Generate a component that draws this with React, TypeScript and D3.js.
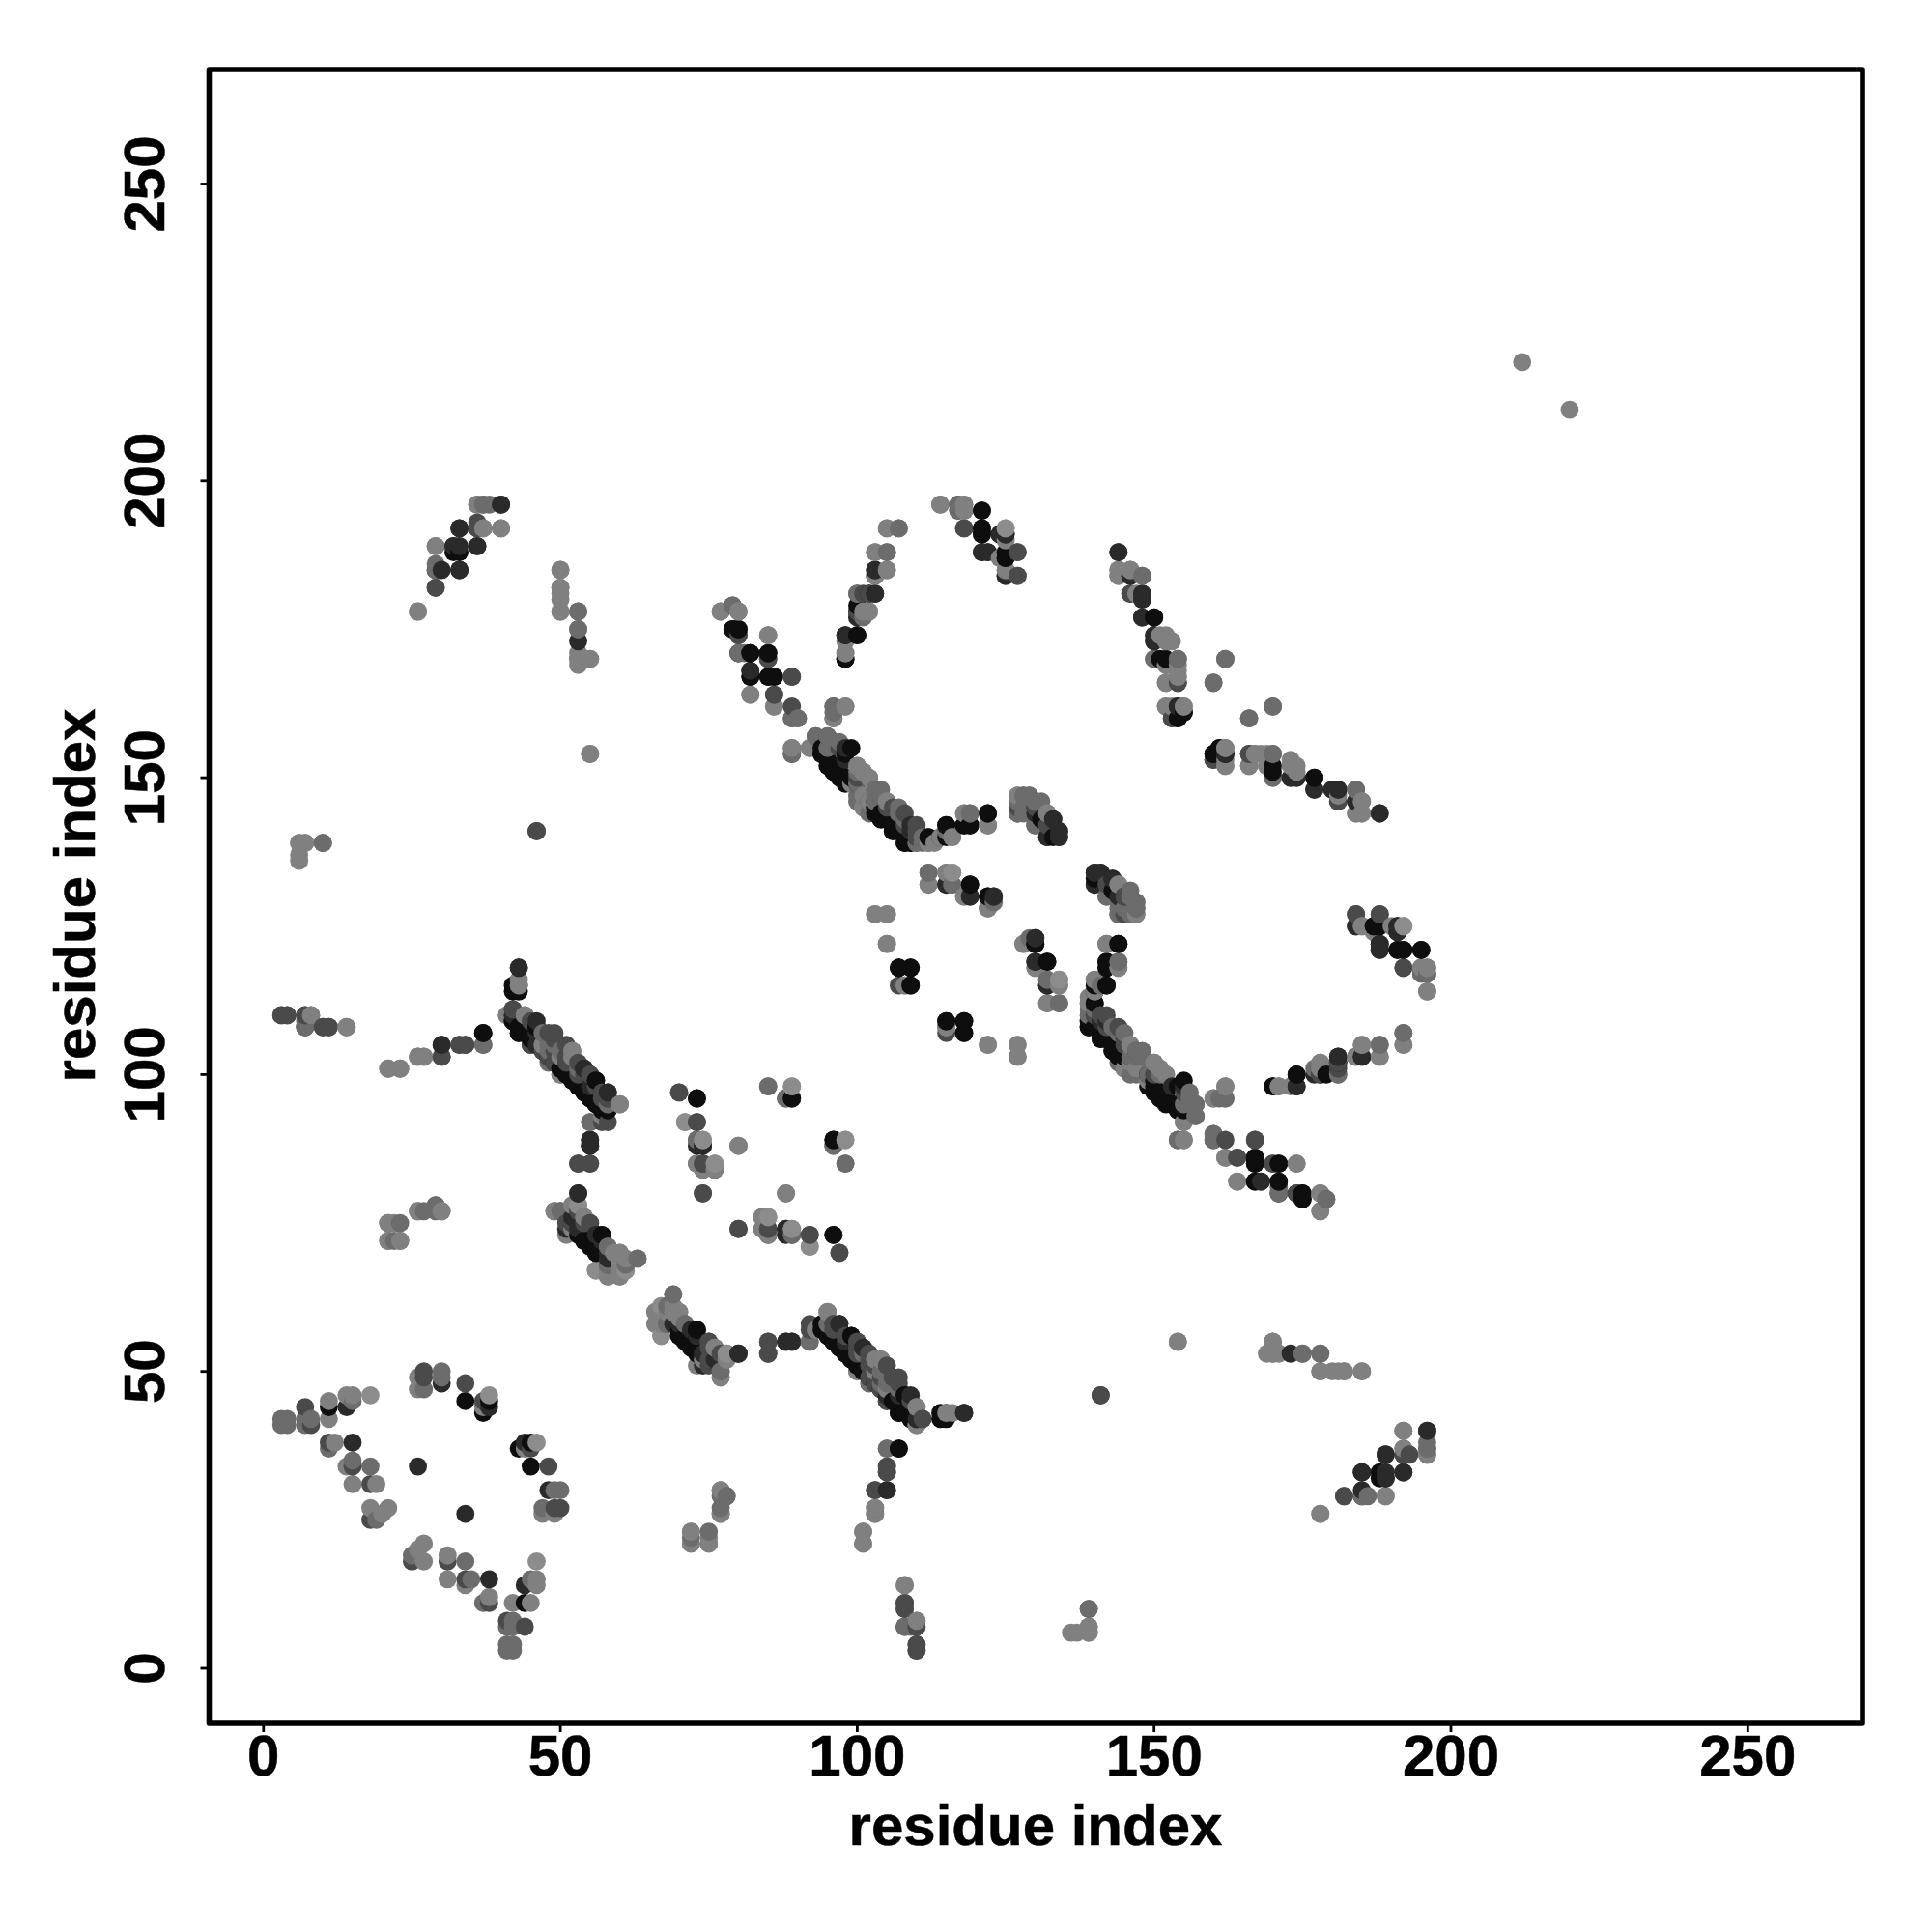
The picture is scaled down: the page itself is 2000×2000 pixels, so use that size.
import React from "react";
import * as d3 from "d3";

const xTicks = [0, 50, 100, 150, 200, 250];
const yTicks = [0, 50, 100, 150, 200, 250];
const axisTitle = "residue index";

// contacts (i < j); the map is mirrored over the diagonal. One list per grey level.
const shadeA = "#0e0e0e";
const shadeB = "#2a2a2a";
const shadeC = "#4a4a4a";
const shadeD = "#6c6c6c";
const shadeE = "#808080";
const shadeF = "#8c8c8c";

const contactsA: number[][] = [[11,44],[34,45],[37,43],[38,45],[37,107],[42,114],[43,114],[42,109],[43,108],[43,107],[44,107],[45,106],[46,105],[46,108],[47,104],[48,103],[49,102],[50,101],[51,100],[52,99],[53,98],[54,97],[55,96],[56,95],[57,94],[56,99],[58,94],[73,96],[52,74],[53,73],[54,72],[55,72],[55,71],[56,70],[56,73],[57,73],[89,96],[96,89],[88,74],[96,73],[70,57],[70,56],[72,54],[73,57],[71,56],[72,55],[95,56],[96,55],[97,54],[98,53],[99,52],[99,56],[100,51],[101,50],[106,45],[107,44],[107,43],[108,43],[108,46],[109,42],[110,42],[115,42],[107,37],[80,175],[79,175],[80,171],[82,171],[82,167],[85,171],[85,167],[86,167],[98,170],[98,174],[100,174],[100,178],[100,179],[102,181],[103,181],[103,185],[121,195],[121,192],[121,191],[125,191],[125,187],[94,155],[94,154],[95,153],[96,152],[96,151],[97,151],[98,150],[99,150],[99,155],[100,149],[103,146],[103,145],[104,144],[104,143],[105,143],[106,142],[106,141],[107,141],[108,140],[108,139],[109,139],[112,140],[115,142],[118,142],[119,142],[122,144],[132,140],[133,140],[119,132],[122,130],[107,118],[109,118],[109,115],[115,109],[118,109],[118,107],[130,122],[132,119],[143,131],[144,122],[142,119],[142,118],[142,115],[140,115],[140,112],[139,109],[139,108],[140,108],[141,107],[141,106],[142,106],[143,105],[143,104],[144,104],[144,103],[145,103],[149,98],[150,97],[151,96],[152,96],[152,95],[153,95],[154,94],[154,98],[167,85],[167,86],[171,85],[167,82],[168,82],[171,82],[175,80],[175,79],[174,100],[170,98],[187,125],[188,125],[191,124],[191,121],[192,121],[195,121],[150,177],[152,170],[154,160],[154,162],[155,161],[160,154],[161,155],[170,151],[177,150],[185,33],[188,33],[188,32],[189,32],[185,29]];

const contactsB: number[][] = [[15,38],[26,34],[30,48],[38,44],[14,44],[7,108],[30,105],[45,105],[42,110],[43,118],[54,101],[58,97],[55,89],[55,88],[55,98],[53,80],[52,76],[51,74],[57,72],[58,70],[58,69],[73,88],[74,88],[74,53],[75,52],[73,56],[80,53],[88,55],[89,55],[95,58],[97,58],[100,55],[101,54],[105,46],[107,46],[109,46],[111,42],[115,43],[118,43],[105,30],[141,46],[192,33],[196,40],[189,36],[30,185],[32,189],[33,189],[33,185],[33,192],[36,189],[36,192],[40,196],[53,173],[80,174],[82,168],[121,188],[122,188],[124,191],[125,184],[98,155],[109,142],[109,141],[114,140],[130,144],[133,143],[134,141],[134,140],[115,132],[119,130],[123,130],[130,123],[130,119],[132,115],[140,134],[141,134],[140,132],[143,133],[145,130],[140,110],[153,98],[174,98],[177,100],[181,103],[185,103],[184,125],[188,122],[188,121],[191,125],[144,188],[146,184],[148,181],[148,180],[148,177],[150,174],[150,173],[162,154],[173,150],[174,150],[177,148],[180,148],[181,148],[184,146],[188,144]];

const contactsC: number[][] = [[7,44],[8,41],[11,38],[15,34],[18,31],[18,25],[27,50],[27,49],[34,48],[37,45],[3,110],[4,110],[7,110],[10,108],[11,108],[33,105],[34,105],[30,103],[42,111],[48,107],[49,106],[49,104],[51,102],[52,102],[53,100],[54,100],[55,100],[57,96],[57,97],[56,98],[58,96],[58,92],[53,85],[55,85],[70,97],[73,92],[74,85],[74,80],[80,74],[51,75],[52,75],[54,75],[55,75],[58,68],[85,74],[85,73],[96,88],[89,73],[92,73],[97,70],[75,55],[77,53],[85,55],[85,53],[92,57],[96,58],[102,53],[103,51],[105,51],[106,49],[107,49],[102,49],[103,48],[104,47],[109,45],[105,45],[105,34],[105,33],[103,30],[108,11],[108,10],[110,8],[110,7],[110,4],[110,3],[182,29],[192,36],[193,36],[46,141],[10,139],[29,182],[86,164],[89,167],[89,154],[85,170],[101,181],[103,184],[118,192],[127,188],[127,184],[117,196],[104,147],[105,145],[106,145],[107,144],[108,144],[108,143],[110,141],[110,140],[130,142],[130,145],[115,107],[142,132],[144,127],[145,127],[140,111],[141,110],[142,110],[142,108],[146,102],[147,101],[150,100],[155,97],[162,89],[160,89],[164,86],[167,89],[170,85],[174,80],[179,79],[184,127],[188,127],[181,102],[178,100],[192,118],[195,118],[195,117],[146,181],[154,166],[160,153],[153,160],[166,154],[181,146]];

const contactsD: number[][] = [[3,41],[4,41],[3,42],[4,42],[8,42],[7,41],[7,42],[11,37],[15,35],[18,34],[19,25],[30,50],[30,49],[27,47],[15,45],[7,109],[37,105],[47,107],[48,105],[50,104],[52,104],[52,103],[53,101],[58,95],[55,92],[21,75],[23,72],[21,72],[22,72],[29,78],[29,77],[49,77],[50,77],[58,71],[61,68],[63,69],[73,89],[76,84],[85,98],[88,96],[98,85],[69,63],[68,58],[71,58],[76,54],[77,50],[92,55],[102,48],[104,48],[105,49],[105,37],[77,27],[78,29],[103,26],[103,27],[75,23],[108,7],[139,10],[175,53],[178,53],[186,29],[196,37],[79,179],[81,171],[89,160],[90,160],[89,155],[93,157],[95,157],[96,156],[97,156],[96,162],[96,160],[96,161],[107,192],[105,188],[100,181],[117,195],[127,146],[128,147],[129,147],[130,146],[127,144],[128,144],[131,146],[128,145],[103,148],[103,147],[102,150],[100,151],[102,144],[110,139],[111,140],[112,139],[122,142],[119,144],[37,192],[37,196],[36,196],[38,196],[40,192],[29,185],[53,178],[53,175],[112,134],[112,132],[116,132],[123,129],[132,116],[134,112],[142,130],[146,130],[147,129],[147,128],[144,119],[141,115],[139,110],[139,111],[143,108],[144,107],[145,107],[147,104],[148,103],[148,104],[146,103],[147,100],[146,100],[149,100],[155,95],[156,96],[157,95],[157,93],[154,89],[160,90],[162,96],[164,82],[171,80],[181,100],[177,101],[188,105],[192,107],[196,117],[148,184],[150,170],[154,170],[162,170],[160,166],[170,162],[166,160],[166,152],[170,154],[170,150],[184,148]];

const contactsE: number[][] = [[11,45],[11,42],[12,38],[14,34],[15,31],[19,31],[18,27],[20,26],[21,27],[14,46],[15,46],[26,49],[26,47],[37,44],[8,110],[14,108],[21,101],[23,101],[26,103],[27,103],[43,115],[41,110],[44,110],[47,105],[50,103],[50,100],[60,95],[22,75],[26,77],[30,77],[52,78],[53,78],[54,76],[51,73],[59,70],[60,70],[60,69],[60,68],[61,69],[61,67],[60,67],[58,67],[58,66],[56,67],[60,66],[73,85],[74,84],[84,76],[85,76],[84,74],[80,88],[88,80],[66,60],[66,58],[67,60],[67,58],[69,60],[70,60],[74,52],[78,52],[77,49],[93,57],[95,60],[103,52],[104,52],[100,50],[110,44],[110,41],[116,43],[77,30],[77,26],[72,23],[72,21],[75,21],[101,23],[101,21],[108,14],[136,6],[139,6],[139,7],[154,55],[170,55],[170,53],[171,53],[178,50],[181,50],[182,50],[185,50],[178,26],[189,29],[192,40],[196,36],[192,37],[6,139],[7,139],[6,137],[55,154],[212,220],[26,178],[29,189],[50,185],[50,182],[50,180],[50,178],[53,170],[55,170],[53,169],[77,178],[80,178],[85,174],[82,164],[86,162],[92,155],[98,162],[98,171],[101,178],[102,178],[105,185],[103,188],[105,192],[114,196],[118,196],[118,195],[124,187],[125,190],[125,185],[100,152],[101,151],[105,146],[99,149],[101,145],[102,146],[101,147],[113,139],[116,140],[118,144],[127,147],[132,144],[115,134],[118,130],[122,128],[103,127],[105,127],[105,122],[108,115],[115,108],[122,105],[127,105],[127,103],[128,122],[130,118],[134,116],[134,115],[132,112],[144,132],[147,127],[142,122],[144,118],[140,116],[140,114],[139,112],[146,105],[145,101],[150,102],[151,101],[152,100],[155,92],[155,89],[162,98],[160,96],[162,86],[174,85],[178,80],[178,77],[171,98],[173,98],[178,102],[184,103],[185,105],[188,103],[192,105],[185,125],[196,118],[196,114],[144,185],[144,184],[146,185],[147,181],[152,174],[153,173],[152,169],[154,168],[154,167],[152,166],[152,162],[153,162],[155,162],[162,155],[162,152],[167,154],[169,154],[169,152],[173,152],[174,151],[185,146],[184,144],[185,144]];

const contactsF: number[][] = [[18,46],[38,46],[71,92],[74,89],[76,85],[89,98],[98,89],[67,61],[67,56],[78,53],[89,74],[92,71],[125,192],[116,134],[192,125]];

const shadeGroups: [string, number[][]][] = [
  [shadeA, contactsA],
  [shadeB, contactsB],
  [shadeC, contactsC],
  [shadeD, contactsD],
  [shadeE, contactsE],
  [shadeF, contactsF],
];

const allPoints = shadeGroups.flatMap(([fill, list]) =>
  list.flatMap(([i, j]) => [
    { x: i, y: j, fill },
    { x: j, y: i, fill },
  ])
);
const sorted = [...allPoints].sort(
  (a, b) => d3.ascending(a.x, b.x) || d3.ascending(a.y, b.y)
);

export default function App() {
  const xScale = d3.scaleLinear().domain([0, 250]).range([272.8, 1809.3]);
  const yScale = d3.scaleLinear().domain([0, 250]).range([1727, 190.5]);
  const font = "'Liberation Sans', Arial, sans-serif";
  const box = { l: 216.5, r: 1928, t: 72, b: 1784 };
  return (
    <svg
      width={2000}
      height={2000}
      style={{ position: "absolute", left: 0, top: 0, background: "#fff" }}
    >
      {sorted.map((p, i) => (
        <circle key={i} cx={xScale(p.x)} cy={yScale(p.y)} r={9.4} fill={p.fill} />
      ))}
      <rect x={box.l} y={box.t} width={box.r - box.l} height={box.b - box.t} fill="none" stroke="#000" strokeWidth={5.6} strokeLinejoin="round" />
      {xTicks.map((t) => (
        <g key={t}>
          <line x1={xScale(t)} x2={xScale(t)} y1={box.b} y2={box.b + 9} stroke="#000" strokeWidth={2.8} />
          <text x={xScale(t)} y={1838} textAnchor="middle" fontFamily={font} fontWeight="bold" fontSize={60} stroke="#000" strokeWidth={0.5}>{t}</text>
        </g>
      ))}
      {yTicks.map((t) => (
        <g key={t}>
          <line x1={box.l} x2={box.l - 9} y1={yScale(t)} y2={yScale(t)} stroke="#000" strokeWidth={2.8} />
          <text transform={`translate(169.5,${yScale(t)}) rotate(-90)`} textAnchor="middle" fontFamily={font} fontWeight="bold" fontSize={60} stroke="#000" strokeWidth={0.5}>{t}</text>
        </g>
      ))}
      <text x={1072} y={1910} textAnchor="middle" fontFamily={font} fontWeight="bold" fontSize={60} stroke="#000" strokeWidth={0.5}>{axisTitle}</text>
      <text transform="translate(98,927) rotate(-90)" textAnchor="middle" fontFamily={font} fontWeight="bold" fontSize={60} stroke="#000" strokeWidth={0.5}>{axisTitle}</text>
    </svg>
  );
}
